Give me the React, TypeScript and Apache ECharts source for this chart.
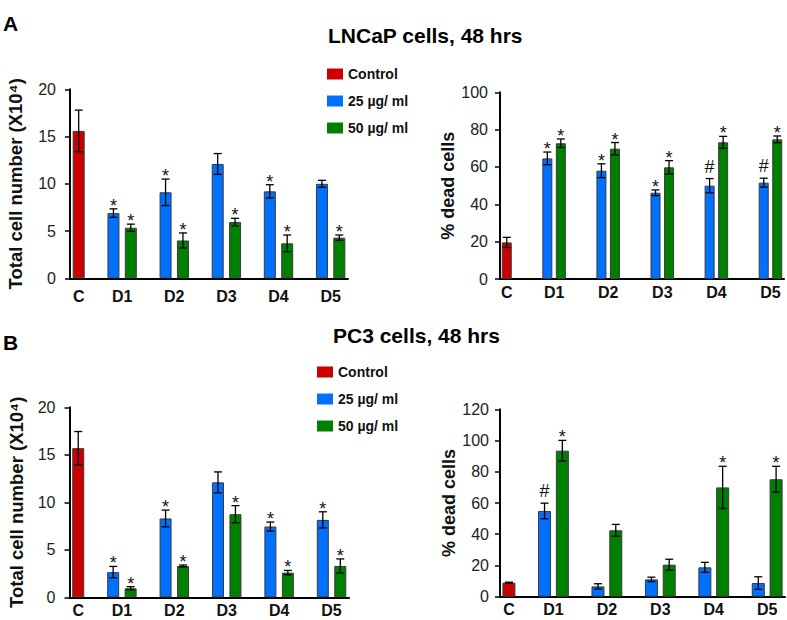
import React, { useEffect, useRef } from 'react';
import * as echarts from 'echarts';

// ---------- data ----------
const groupLabels = ['C', 'D1', 'D2', 'D3', 'D4', 'D5'];
const legendNames = ['Control', '25 µg/ ml', '50 µg/ ml'];

// A (LNCaP) – total cell number (x10^4)
const lncapCountControl = 15.6;
const lncapCountControlErr = 2.2;
const lncapCount25 = [6.9, 9.1, 12.1, 9.2, 10.0];
const lncapCount25Err = [0.45, 1.4, 1.1, 0.7, 0.37];
const lncapCount50 = [5.35, 4.0, 5.95, 3.7, 4.3];
const lncapCount50Err = [0.38, 0.8, 0.4, 0.88, 0.28];
const lncapCount25Marks = ['*', '*', '', '*', ''];
const lncapCount50Marks = ['*', '*', '*', '*', '*'];

// A (LNCaP) – % dead cells
const lncapDeadControl = 19.6;
const lncapDeadControlErr = 2.7;
const lncapDead25 = [64.6, 58.0, 46.2, 50.0, 51.6];
const lncapDead25Err = [3.4, 3.7, 1.5, 3.8, 2.4];
const lncapDead50 = [72.7, 69.8, 59.8, 73.2, 74.8];
const lncapDead50Err = [2.3, 3.3, 3.6, 3.2, 1.8];
const lncapDead25Marks = ['*', '*', '*', '#', '#'];
const lncapDead50Marks = ['*', '*', '*', '*', '*'];

// B (PC3) – total cell number (x10^4)
const pc3CountControl = 15.7;
const pc3CountControlErr = 1.75;
const pc3Count25 = [2.65, 8.3, 12.1, 7.45, 8.15];
const pc3Count25Err = [0.6, 0.88, 1.1, 0.47, 0.85];
const pc3Count50 = [0.95, 3.3, 8.75, 2.6, 3.3];
const pc3Count50Err = [0.17, 0.1, 0.9, 0.23, 0.74];
const pc3Count25Marks = ['*', '*', '', '*', '*'];
const pc3Count50Marks = ['*', '*', '*', '*', '*'];

// B (PC3) – % dead cells
const pc3DeadControl = 9.0;
const pc3DeadControlErr = 0.3;
const pc3Dead25 = [54.9, 6.6, 11.1, 18.8, 8.75];
const pc3Dead25Err = [5.0, 1.7, 1.4, 3.2, 4.0];
const pc3Dead50 = [93.5, 42.5, 20.5, 70.0, 75.2];
const pc3Dead50Err = [6.6, 3.8, 3.5, 13.5, 8.3];
const pc3Dead25Marks = ['#', '', '', '', ''];
const pc3Dead50Marks = ['*', '', '', '*', '*'];

// ---------- style ----------
const FONT = '"Liberation Sans", Arial, Helvetica, sans-serif';
const RED = '#CC0000';
const BLUE = '#0070FF';
const GREEN = '#008000';
const BORDER = '#3a3a3a';
const INK = '#111111';

type Panel = {
  left: number; top: number; width: number; height: number;
  max: number; interval: number; slots: number; per: number; first: number;
  yName: string; nameGap: number; labelMargin: number; xMargin: number; barWidth: number;
  control: number; controlErr: number;
  v25: number[]; e25: number[]; v50: number[]; e50: number[];
  m25: string[]; m50: string[];
};

const panels: Panel[] = [
  {
    left: 70, top: 89.3, width: 278, height: 189, max: 20, interval: 5,
    slots: 16, per: 3, first: 2, yName: 'Total cell number (X10⁴)', nameGap: 45,
    labelMargin: 14, xMargin: 10, barWidth: 12,
    control: lncapCountControl, controlErr: lncapCountControlErr,
    v25: lncapCount25, e25: lncapCount25Err, v50: lncapCount50, e50: lncapCount50Err,
    m25: lncapCount25Marks, m50: lncapCount50Marks,
  },
  {
    left: 500, top: 92.3, width: 284, height: 186.7, max: 100, interval: 20,
    slots: 21, per: 4, first: 3, yName: '% dead cells', nameGap: 40,
    labelMargin: 12, xMargin: 5, barWidth: 10,
    control: lncapDeadControl, controlErr: lncapDeadControlErr,
    v25: lncapDead25, e25: lncapDead25Err, v50: lncapDead50, e50: lncapDead50Err,
    m25: lncapDead25Marks, m50: lncapDead50Marks,
  },
  {
    left: 69.5, top: 407.3, width: 279.5, height: 190, max: 20, interval: 5,
    slots: 16, per: 3, first: 2, yName: 'Total cell number (X10⁴)', nameGap: 44,
    labelMargin: 14, xMargin: 5, barWidth: 12,
    control: pc3CountControl, controlErr: pc3CountControlErr,
    v25: pc3Count25, e25: pc3Count25Err, v50: pc3Count50, e50: pc3Count50Err,
    m25: pc3Count25Marks, m50: pc3Count50Marks,
  },
  {
    left: 500, top: 409.3, width: 285, height: 187.4, max: 120, interval: 20,
    slots: 16, per: 3, first: 2, yName: '% dead cells', nameGap: 39,
    labelMargin: 11, xMargin: 5, barWidth: 13,
    control: pc3DeadControl, controlErr: pc3DeadControlErr,
    v25: pc3Dead25, e25: pc3Dead25Err, v50: pc3Dead50, e50: pc3Dead50Err,
    m25: pc3Dead25Marks, m50: pc3Dead50Marks,
  },
];

function buildOption() {
  const grid: any[] = [];
  const xAxis: any[] = [];
  const yAxis: any[] = [];
  const series: any[] = [];

  panels.forEach((p, pi) => {
    const slotW = p.width / p.slots;
    const blueSlot = (i: number) => p.first + p.per * i;
    const greenSlot = (i: number) => p.first + p.per * i + 1;
    const labelAt: Record<number, string> = { 0: groupLabels[0] };
    for (let i = 0; i < 5; i++) labelAt[blueSlot(i)] = groupLabels[i + 1];

    grid.push({ left: p.left, top: p.top, width: p.width, height: p.height, containLabel: false });

    xAxis.push({
      gridIndex: pi,
      type: 'category',
      data: Array.from({ length: p.slots }, (_, k) => 's' + k),
      axisLine: { show: true, lineStyle: { color: '#000', width: 2 } },
      axisTick: { show: false },
      splitLine: { show: false },
      axisLabel: {
        interval: 0,
        margin: p.xMargin,
        formatter: (_v: string, idx: number) => {
          const t = labelAt[idx];
          if (!t) return '';
          return idx === 0 ? '{c|' + t + '}' : '{d|' + t + '}';
        },
        rich: {
          c: { fontFamily: FONT, fontWeight: 'bold', fontSize: 16, color: INK },
          d: { fontFamily: FONT, fontWeight: 'bold', fontSize: 16, color: INK, padding: [0, 0, 0, slotW] },
        },
      },
    });

    yAxis.push({
      gridIndex: pi,
      type: 'value',
      min: 0,
      max: p.max,
      interval: p.interval,
      axisLine: { show: true, lineStyle: { color: '#000', width: 2 } },
      axisTick: { show: true, length: 5, lineStyle: { color: '#000', width: 1.5 } },
      splitLine: { show: false },
      axisLabel: { fontFamily: FONT, fontSize: 16, color: '#222', margin: p.labelMargin },
      name: p.yName,
      nameLocation: 'middle',
      nameGap: p.nameGap,
      nameTextStyle: { fontFamily: FONT, fontWeight: 'bold', fontSize: p.yName.length > 15 ? 18.5 : 18, color: INK },
    });

    const ctrl: any[] = new Array(p.slots).fill(null);
    const d25: any[] = new Array(p.slots).fill(null);
    const d50: any[] = new Array(p.slots).fill(null);
    ctrl[0] = p.control;
    p.v25.forEach((v, i) => { d25[blueSlot(i)] = v; });
    p.v50.forEach((v, i) => { d50[greenSlot(i)] = v; });

    const barBase = {
      type: 'bar', xAxisIndex: pi, yAxisIndex: pi, barWidth: p.barWidth, barGap: '-100%',
    };
    series.push({ ...barBase, name: legendNames[0], data: ctrl, itemStyle: { color: RED, borderColor: BORDER, borderWidth: 1 } });
    series.push({ ...barBase, name: legendNames[1], data: d25, itemStyle: { color: BLUE, borderColor: BORDER, borderWidth: 1 } });
    series.push({ ...barBase, name: legendNames[2], data: d50, itemStyle: { color: GREEN, borderColor: BORDER, borderWidth: 1 } });

    const errData: number[][] = [[0, p.control, p.controlErr]];
    const marks: string[] = [''];
    p.v25.forEach((v, i) => { errData.push([blueSlot(i), v, p.e25[i]]); marks.push(p.m25[i]); });
    p.v50.forEach((v, i) => { errData.push([greenSlot(i), v, p.e50[i]]); marks.push(p.m50[i]); });

    series.push({
      type: 'custom',
      xAxisIndex: pi,
      yAxisIndex: pi,
      z: 5,
      clip: false,
      data: errData,
      renderItem: (params: any, api: any) => {
        const x = api.value(0);
        const m = api.value(1);
        const e = api.value(2);
        const top = api.coord([x, m + e]);
        const bot = api.coord([x, m - e]);
        const cx = top[0];
        const hw = 4;
        const st = { stroke: '#000', lineWidth: 1.3 };
        const children: any[] = [
          { type: 'line', shape: { x1: cx, y1: top[1], x2: cx, y2: bot[1] }, style: st },
          { type: 'line', shape: { x1: cx - hw, y1: top[1], x2: cx + hw, y2: top[1] }, style: st },
          { type: 'line', shape: { x1: cx - hw, y1: bot[1], x2: cx + hw, y2: bot[1] }, style: st },
        ];
        const mk = marks[params.dataIndex];
        if (mk) {
          children.push({
            type: 'text',
            x: cx,
            y: top[1] - (mk === '#' ? 12 : 3),
            style: {
              text: mk, fill: INK, fontFamily: FONT, fontSize: 18,
              align: 'center', verticalAlign: 'middle',
            },
          });
        }
        return { type: 'group', children };
      },
    });
  });

  const legendBase = {
    data: legendNames,
    orient: 'vertical',
    icon: 'rect',
    itemWidth: 16,
    itemHeight: 11,
    itemGap: 13,
    padding: 0,
    textStyle: { fontFamily: FONT, fontWeight: 'bold', fontSize: 14, color: INK },
    itemStyle: { borderWidth: 0 },
    selectedMode: false,
  };

  const titleStyle = { fontFamily: FONT, fontWeight: 'bold', fontSize: 21, color: '#000' };

  return {
    animation: false,
    backgroundColor: '#ffffff',
    title: [
      { text: 'A', left: 3, top: 12.5, padding: 0, textStyle: titleStyle },
      { text: 'LNCaP cells, 48 hrs', left: 328, top: 24.5, padding: 0, textStyle: titleStyle },
      { text: 'B', left: 3, top: 331.5, padding: 0, textStyle: titleStyle },
      { text: 'PC3 cells, 48 hrs', left: 333, top: 324.5, padding: 0, textStyle: titleStyle },
    ],
    legend: [
      { ...legendBase, left: 327, top: 67 },
      { ...legendBase, left: 317, top: 365 },
    ],
    grid,
    xAxis,
    yAxis,
    series,
  };
}

export default function App() {
  const ref = useRef<HTMLDivElement>(null);
  useEffect(() => {
    if (!ref.current) return;
    const chart = echarts.init(ref.current, undefined, { renderer: 'svg' });
    chart.setOption(buildOption() as any);
    return () => chart.dispose();
  }, []);
  return (
    <div
      ref={ref}
      style={{ position: 'absolute', left: 0, top: 0, width: 787, height: 620, background: '#fff' }}
    />
  );
}
